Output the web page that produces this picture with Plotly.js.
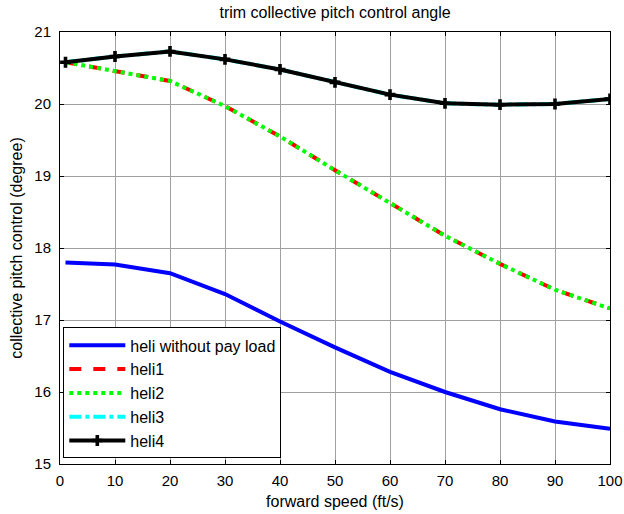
<!DOCTYPE html>
<html>
<head>
<meta charset="utf-8">
<script src="https://cdn.plot.ly/plotly-3.0.1.min.js"></script>
<style>html,body{margin:0;padding:0;background:#fff;}#chart{width:624px;height:514px;}</style>
</head>
<body>
<div id="chart"></div>
<script>
const speed = [1, 10, 20, 30, 40, 50, 60, 70, 80, 90, 100];
const heliNoLoad = [17.80, 17.77, 17.65, 17.36, 16.98, 16.62, 16.28, 16.00, 15.76, 15.59, 15.49];
const heli1 = [20.58, 20.46, 20.32, 19.97, 19.55, 19.08, 18.62, 18.17, 17.78, 17.42, 17.16];
const heli2 = [20.58, 20.46, 20.32, 19.97, 19.55, 19.08, 18.62, 18.17, 17.78, 17.42, 17.16];
const heli3 = [20.58, 20.66, 20.73, 20.62, 20.48, 20.30, 20.13, 20.01, 19.99, 20.00, 20.07];
const heli4 = [20.58, 20.66, 20.73, 20.62, 20.48, 20.30, 20.13, 20.01, 19.99, 20.00, 20.07];
const names = ['heli without pay load', 'heli1', 'heli2', 'heli3', 'heli4'];
const xTicks = [0, 10, 20, 30, 40, 50, 60, 70, 80, 90, 100];
const yTicks = [15, 16, 17, 18, 19, 20, 21];

const FONT = 'Liberation Sans, Arial, Helvetica, sans-serif';

const traces = [
  {x: speed, y: heliNoLoad, name: names[0], mode: 'lines', line: {color: '#0000ff', width: 4}},
  {x: speed, y: heli1, name: names[1], mode: 'lines', line: {color: '#ff0000', width: 4, dash: 'dash'}},
  {x: speed, y: heli2, name: names[2], mode: 'lines', line: {color: '#00ff00', width: 4, dash: 'dot'}},
  {x: speed, y: heli3, name: names[3], mode: 'lines', line: {color: '#00ffff', width: 4, dash: 'dashdot'}},
  {x: speed, y: heli4, name: names[4], mode: 'lines+markers', line: {color: '#000000', width: 4},
   marker: {symbol: 'cross', size: 9, color: '#000000'}}
];

const axisCommon = {
  showline: true, linecolor: '#000', linewidth: 1, mirror: 'ticks',
  ticks: 'inside', ticklen: 4, tickcolor: '#000',
  showgrid: true, gridcolor: '#a0a0a0', gridwidth: 1, zeroline: false,
  tickfont: {family: FONT, size: 15, color: '#000'}
};

const layout = {
  width: 624, height: 514,
  margin: {l: 60, r: 14, t: 32, b: 50},
  paper_bgcolor: '#fff', plot_bgcolor: '#fff',
  title: {text: 'trim collective pitch control angle', x: 0.537, xanchor: 'center', y: 0.975, yanchor: 'middle',
          font: {family: FONT, size: 16, color: '#000'}},
  xaxis: Object.assign({}, axisCommon, {range: [0, 100], tickvals: xTicks, ticktext: xTicks.map(String),
    ticklabelstandoff: 3,
    title: {text: 'forward speed (ft/s)', standoff: 7, font: {family: FONT, size: 16, color: '#000'}}}),
  yaxis: Object.assign({}, axisCommon, {range: [15, 21], tickvals: yTicks, ticktext: yTicks.map(String),
    ticklabelstandoff: 5,
    title: {text: 'collective pitch control (degree)', standoff: 7, font: {family: FONT, size: 16, color: '#000'}}}),
  showlegend: true,
  legend: {x: 0.006, y: 0.013, xanchor: 'left', yanchor: 'bottom', bgcolor: '#fff', bordercolor: '#000', borderwidth: 1,
           font: {family: FONT, size: 16, color: '#000'}, tracegroupgap: 0, itemwidth: 56}
};

Plotly.newPlot('chart', traces, layout, {displayModeBar: false, staticPlot: true});
</script>
</body>
</html>
